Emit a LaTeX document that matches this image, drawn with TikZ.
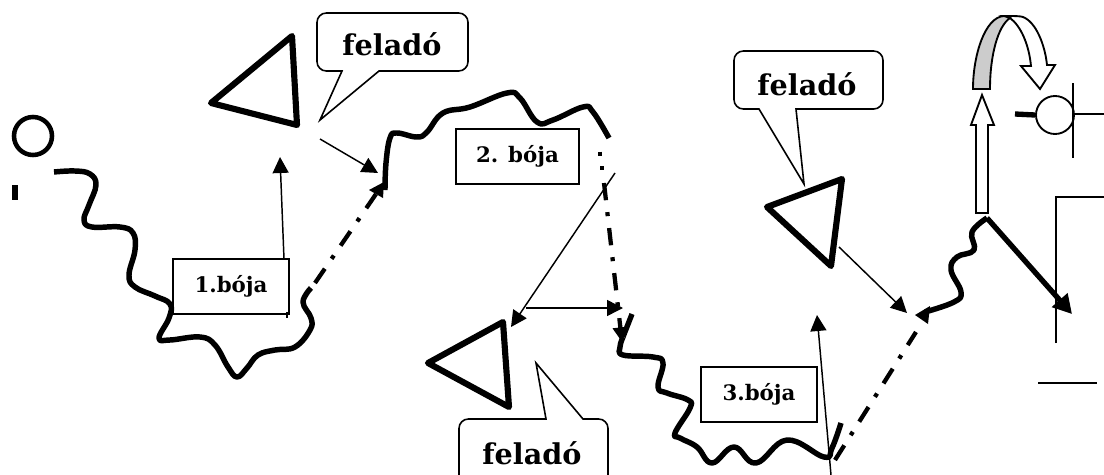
\documentclass[tikz,border=0pt]{standalone}
\usepackage{fontspec}
\setmainfont{DejaVu Serif}
\usetikzlibrary{arrows.meta}
\tikzset{
  x=0.75pt,y=-0.75pt,
  wave/.style={line width=4.1pt,line join=round,smooth,tension=0.7},
  tri/.style={line width=4.6pt,line join=round},
  thinarrow/.style={line width=1.1pt,-{Triangle[length=12pt,width=12pt]}},
  dotdash/.style={line width=3.2pt,dash pattern=on 13pt off 9pt on 3pt off 9pt},
  dotdasharrow/.style={dotdash,-{Triangle[length=11pt,width=11pt]}},
  bubble/.style={line width=1.2pt,line join=miter},
  bubbletext/.style={font=\bfseries\fontsize{21.5}{25}\selectfont,inner sep=0pt},
  bojabox/.style={draw,line width=1.3pt,minimum height=41.25pt,inner sep=0pt,font=\bfseries\fontsize{16}{19}\selectfont},
  plain/.style={line width=1.4pt},
  hollow/.style={draw,line width=1.4pt,line join=miter,fill=white}
}
\begin{document}
\begin{tikzpicture}
\useasboundingbox (0,0) rectangle (1104,475);
\clip (0,0) rectangle (1104,475);
% start marks
\node[circle,draw,line width=3.4pt,minimum size=28.5pt,inner sep=0pt] (ball1) at (33,136) {};
\draw[line width=4.5pt] (15,185) -- (15,200);
% waves
\draw[wave] plot coordinates {(54,172)(75,171)(90,174)(96,185)(89,205)(84,220)(92,227)(120,227)(133,233)(135,250)(129,275)(135,287)(155,296)(170,304)(169,318)(159,338)(170,340)(200,337)(215,345)(228,367)(237,377)(247,368)(258,355)(275,350)(295,347)(310,330)(311,318)(303,302)(311,288)};
\draw[wave] plot coordinates {(385,190)(386,163)(390,138)(397,133)(417,137)(427,132)(443,113)(470,107)(507,93)(520,98)(537,122)(553,120)(583,107)(593,112)(609,138)};
\draw[wave] plot coordinates {(623,337)(620,347)(623,355)(653,357)(663,363)(658,387)(667,393)(688,400)(690,408)(675,433)(680,438)(697,447)(712,463)(734,447)(756,463)(787,440)(824,457)(832,448)(841,423)};
\draw[line width=4pt] (632,314) -- (623,337);
\draw[wave] plot coordinates {(925,312)(954,302)(961,292)(951,270)(957,257)(974,250)(972,232)(987,218)};
% triangles
\draw[tri] (292,36) -- (211,103) -- (297,125) -- cycle;
\draw[tri] (503,322) -- (428,363) -- (509,407) -- cycle;
\draw[tri] (842,179) -- (767,207) -- (831,266) -- cycle;
% boxes
\node[bojabox,minimum width=87pt] (b1) at (231,286.5) {1.bója};
\node[bojabox,minimum width=92.25pt] (b2) at (517.5,156.5) {2. bója};
\node[bojabox,minimum width=87pt] (b3) at (759,394.5) {3.bója};
\draw[plain] (287,312) -- (287,318);
% named connector ends
\coordinate (a1s) at (284,259); \coordinate (a1e) at (280,157);
\coordinate (a2s) at (320,139); \coordinate (a2e) at (378,173);
\coordinate (a3s) at (615,173); \coordinate (a3e) at (511,327);
\coordinate (a4s) at (526,308); \coordinate (a4e) at (623,308);
\coordinate (a5s) at (831,475); \coordinate (a5e) at (817,315);
\coordinate (a6s) at (839,247); \coordinate (a6e) at (907,313);
\draw[thinarrow] (a1s) -- (a1e);
\draw[thinarrow] (a2s) -- (a2e);
\draw[thinarrow] (a3s) -- (a3e);
\draw[thinarrow] (a4s) -- (a4e);
\draw[thinarrow] (a5s) -- (a5e);
\draw[thinarrow] (a6s) -- (a6e);
% dash-dot hops
\coordinate (d1s) at (315,283); \coordinate (d1e) at (376,194);
\coordinate (d2s) at (604,183); \coordinate (d2e) at (622,342);
\coordinate (d3s) at (835,460); \coordinate (d3e) at (916,332);
\draw[dotdash] (d1s) -- (d1e);
\draw[dotdasharrow] (d2s) -- (d2e);
\draw[dotdash] (d3s) -- (d3e);
\fill (369,190) -- (384,182) -- (383,198) -- cycle;
\fill (915,315) -- (930,306) -- (928,324) -- cycle;
\draw[line width=3.4pt] (600,151.5) -- (600,155.5);
\draw[line width=3.4pt] (602,166) -- (602,170);
% callouts
\draw[bubble] (342,71) -- (320,120) -- (379,71) [rounded corners=7pt] -- (468,71) -- (468,13) -- (317,13) -- (317,71) [sharp corners] -- cycle;
\node[bubbletext] (f1) at (392,44) {feladó};
\draw[bubble] (759,109) -- (804,184) -- (796,109) [rounded corners=7pt] -- (883,109) -- (883,51) -- (734,51) -- (734,109) [sharp corners] -- cycle;
\node[bubbletext] (f2) at (807,84) {feladó};
\draw[bubble] (546,419) -- (536,363) -- (583,419) [rounded corners=7pt] -- (608,419) -- (608,485) -- (459,485) -- (459,419) [sharp corners] -- cycle;
\node[bubbletext] (f3) at (532,453) {feladó};
% turn-round arrows
\draw[hollow] (1004,16) .. controls (1015,16) and (1020,16) .. (1023,17) .. controls (1036,22) and (1045,45) .. (1047,65) -- (1055,65) -- (1040,89) -- (1021,66) -- (1031,66) .. controls (1029,45) and (1021,26) .. (1010,18) -- cycle;
\draw[hollow,fill=black!20] (973,89) .. controls (973,55) and (985,17) .. (1004,16) -- (1010,18) .. controls (998,26) and (990,55) .. (990,89) -- cycle;
\draw[hollow] (976,213) -- (976,125) -- (971,125) -- (982,95) -- (994,125) -- (988,125) -- (988,213) -- cycle;
% buoy on the right
\node[circle,draw,line width=1.4pt,minimum size=28.5pt,inner sep=0pt] (ball2) at (1055,115) {};
\draw[line width=4pt] (1015,114) -- (ball2.west);
\coordinate (vt) at (1073,83); \coordinate (vb) at (1073,158); \coordinate (rr) at (1104,114); \coordinate (rl) at (1075,114);
\draw[plain] (vt) -- (vb);
\draw[plain] (rl) -- (rr);
% frame and last arrow
\coordinate (fb) at (1056,343); \coordinate (ft) at (1056,197); \coordinate (fr) at (1104,197);
\draw[plain] (fb) -- (ft) -- (fr);
\coordinate (ll) at (1038,383); \coordinate (lr) at (1097,383);
\draw[plain] (ll) -- (lr);
\coordinate (ts) at (987,218); \coordinate (te) at (1072,314);
\draw[line width=4pt,-{Triangle[length=14pt,width=15pt]}] (ts) -- (te);
\end{tikzpicture}
\end{document}
